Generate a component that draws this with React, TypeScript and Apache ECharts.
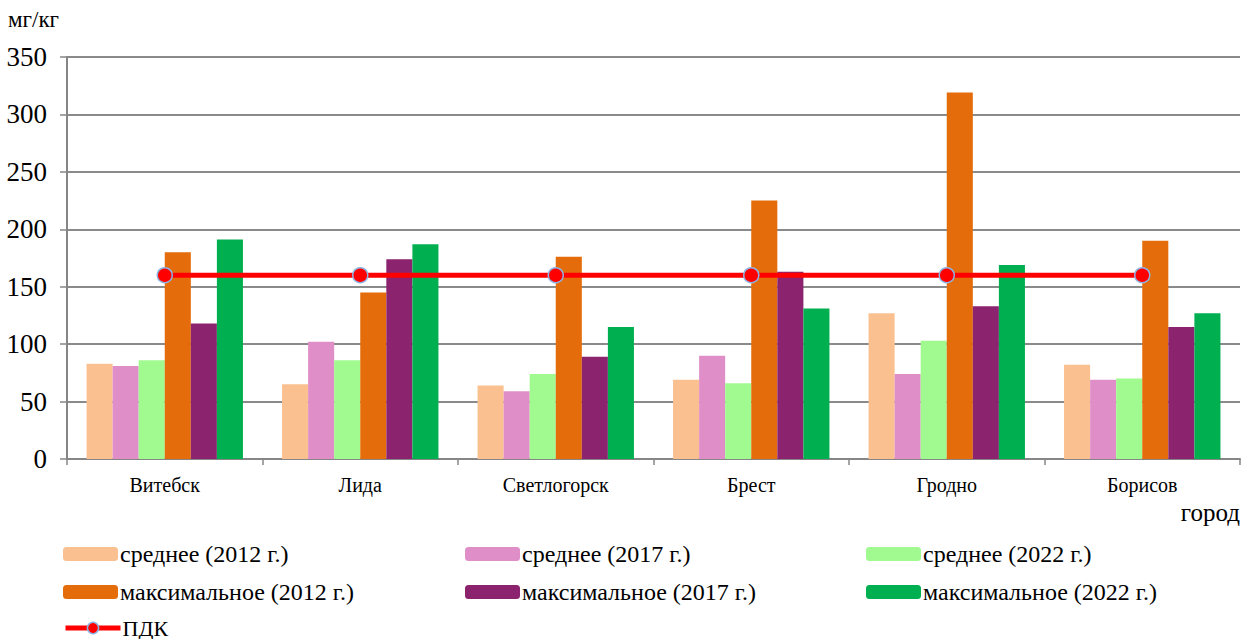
import React, { useEffect, useRef } from "react";
import * as echarts from "echarts";

const categories = ["Витебск", "Лида", "Светлогорск", "Брест", "Гродно", "Борисов"];
const mean2012 = [83, 65, 64, 69, 127, 82];
const mean2017 = [81, 102, 59, 90, 74, 69];
const mean2022 = [86, 86, 74, 66, 103, 70];
const max2012 = [180, 145, 176, 225, 319, 190];
const max2017 = [118, 174, 89, 163, 133, 115];
const max2022 = [191, 187, 115, 131, 169, 127];
const pdk = [160, 160, 160, 160, 160, 160];

const seriesNames = [
  "среднее (2012 г.)",
  "среднее (2017 г.)",
  "среднее (2022 г.)",
  "максимальное (2012 г.)",
  "максимальное (2017 г.)",
  "максимальное (2022 г.)",
];
const pdkName = "ПДК";
const colors = ["#FAC090", "#E08EC8", "#A0FA90", "#E46C0A", "#8B236E", "#00B050"];

const FONT = "serif";

export default function App() {
  const ref = useRef<HTMLDivElement>(null);
  useEffect(() => {
    if (!ref.current) return;
    const chart = echarts.init(ref.current, undefined, { renderer: "svg" });
    const values = [mean2012, mean2017, mean2022, max2012, max2017, max2022];
    const legendCommon = {
      orient: "vertical" as const,
      top: 542,
      height: 80,
      itemWidth: 55,
      itemHeight: 14,
      itemGap: 14,
      padding: 0,
      textStyle: { fontFamily: FONT, fontSize: 24, color: "#000", padding: [0, 0, 0, -3] },
      selectedMode: false,
    };
    chart.setOption({
      animation: false,
      textStyle: { fontFamily: FONT },
      grid: { left: 67, right: 4, top: 57, bottom: 180, containLabel: false },
      legend: [
        { ...legendCommon, left: 63, data: [seriesNames[0], seriesNames[3]] },
        { ...legendCommon, left: 465, data: [seriesNames[1], seriesNames[4]] },
        { ...legendCommon, left: 866, data: [seriesNames[2], seriesNames[5]] },
        {
          ...legendCommon,
          top: 617,
          height: 22,
          left: 63,
          textStyle: { fontFamily: FONT, fontSize: 22, lineHeight: 22, color: "#000", padding: [0, 0, 0, -3] },
          data: [
            {
              name: pdkName,
              itemStyle: { color: "#FF0000", borderColor: "#8EB4E3", borderWidth: 1.5 },
              lineStyle: { color: "#FF0000", width: 5 },
            },
          ],
        },
      ],
      xAxis: {
        type: "category",
        data: categories,
        axisLine: { lineStyle: { color: "#868686", width: 2 } },
        axisTick: { show: true, length: 6, lineStyle: { color: "#868686", width: 1.5 } },
        axisLabel: { fontFamily: FONT, fontSize: 20, color: "#000", margin: 16 },
        splitLine: { show: false },
      },
      yAxis: {
        type: "value",
        min: 0,
        max: 350,
        interval: 50,
        axisLine: { show: true, lineStyle: { color: "#868686", width: 2 } },
        axisTick: { show: true, length: 7, lineStyle: { color: "#868686", width: 1.5 } },
        axisLabel: { fontFamily: FONT, fontSize: 27, color: "#000", margin: 20 },
        splitLine: { show: true, lineStyle: { color: "#8a8a8a", width: 2 } },
      },
      graphic: [
        { type: "text", left: 8, top: 8, style: { text: "мг/кг", fontFamily: FONT, fontSize: 23, fill: "#000" } },
        { type: "text", right: 4, top: 500, style: { text: "город", fontFamily: FONT, fontSize: 25, fill: "#000" } },
      ],
      series: [
        ...values.map((v, i) => ({
          name: seriesNames[i],
          type: "bar",
          data: v,
          barGap: "0%",
          barCategoryGap: "20%",
          itemStyle: { color: colors[i] },
        })),
        {
          name: pdkName,
          type: "line",
          data: pdk,
          z: 10,
          symbol: "circle",
          symbolSize: 15,
          itemStyle: { color: "#FF0000", borderColor: "#8EB4E3", borderWidth: 1.5 },
          lineStyle: { color: "#FF0000", width: 5 },
        },
      ],
    });
    return () => chart.dispose();
  }, []);
  return <div ref={ref} style={{ width: 1244, height: 639, position: "absolute", left: 0, top: 0 }} />;
}
